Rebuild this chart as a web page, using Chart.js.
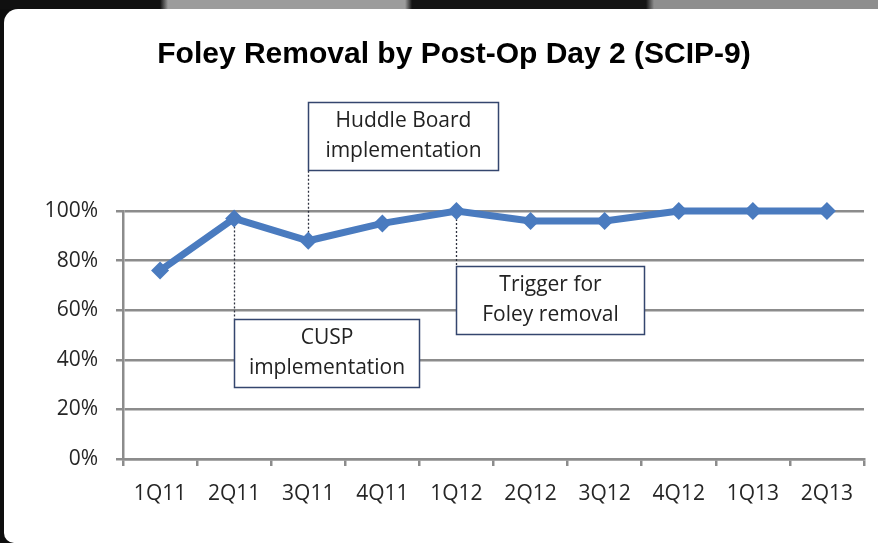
<!DOCTYPE html>
<html>
<head>
<meta charset="utf-8">
<title>Foley Removal by Post-Op Day 2</title>
<script src="https://cdn.jsdelivr.net/npm/chart.js@4.4.1/dist/chart.umd.min.js"></script>
<style>
  body { margin: 0; width: 878px; height: 543px; overflow: hidden; background: #0e0e0e; position: relative; }
  #strip { position: absolute; left: 0; top: 0; width: 878px; height: 9px;
    background: linear-gradient(90deg, #101010 0, #101010 160px, #9c9c9c 168px, #9c9c9c 405px, #151515 412px, #151515 646px, #8e8e8e 654px, #8e8e8e 878px); }
  #panel { position: absolute; left: 4px; top: 9px; right: 0; bottom: 0; background: #fff;
    border-top-left-radius: 14px; border-bottom-left-radius: 10px; }
  #wrap { position: absolute; left: 0; top: 0; width: 878px; height: 543px; }
</style>
</head>
<body>
<div id="strip"></div>
<div id="panel"></div>
<div id="wrap"><canvas id="myChart" width="878" height="543"></canvas></div>
<script>
let quarters = ['1Q11', '2Q11', '3Q11', '4Q11', '1Q12', '2Q12', '3Q12', '4Q12', '1Q13', '2Q13'];
let foleyRemoval = [76, 97, 88, 95, 100, 96, 96, 100, 100, 100];
let yTicks = [0, 20, 40, 60, 80, 100];

// annotation callouts, anchored to a quarter
let noteQuarters = ['3Q11', '2Q11', '1Q12'];
let noteLines = [
  ['Huddle Board', 'implementation'],
  ['CUSP', 'implementation'],
  ['Trigger for', 'Foley removal']
];

let blue = '#4a7bbf';
let gridGray = '#8c8c8c';

// where each callout box sits, in y-axis units (top, bottom) and px width
let boxPlacement = [
  { top: 144, bottom: 116.5, width: 190 },
  { top: 56.5, bottom: 29, width: 185 },
  { top: 78, bottom: 50.5, width: 188 }
];

const notesPlugin = {
  id: 'notes',
  beforeDatasetsDraw(chart) {
    let ctx = chart.ctx;
    let x = chart.scales.x;
    let y = chart.scales.y;
    ctx.save();
    ctx.strokeStyle = '#2e3240';
    ctx.lineWidth = 1.3;
    ctx.setLineDash([2, 2]);
    for (let i = 0; i < noteQuarters.length; i++) {
      let idx = quarters.indexOf(noteQuarters[i]);
      let px = Math.round(x.getPixelForValue(idx)) + 0.5;
      let py = y.getPixelForValue(foleyRemoval[idx]);
      let b = boxPlacement[i];
      let edge = b.bottom > foleyRemoval[idx] ? y.getPixelForValue(b.bottom) : y.getPixelForValue(b.top);
      ctx.beginPath();
      ctx.moveTo(px, py);
      ctx.lineTo(px, edge);
      ctx.stroke();
    }
    ctx.restore();
  },
  afterDatasetsDraw(chart) {
    let ctx = chart.ctx;
    let x = chart.scales.x;
    let y = chart.scales.y;
    ctx.save();
    for (let i = 0; i < noteQuarters.length; i++) {
      let idx = quarters.indexOf(noteQuarters[i]);
      let b = boxPlacement[i];
      let left = Math.round(x.getPixelForValue(idx)) + 0.5;
      let top = Math.round(y.getPixelForValue(b.top)) + 0.5;
      let bottom = Math.round(y.getPixelForValue(b.bottom)) + 0.5;
      ctx.fillStyle = '#fff';
      ctx.fillRect(left, top, b.width, bottom - top);
      ctx.strokeStyle = '#34466e';
      ctx.lineWidth = 1.5;
      ctx.strokeRect(left, top, b.width, bottom - top);
      ctx.fillStyle = '#222';
      ctx.font = '21px "Open Sans"';
      ctx.textAlign = 'center';
      ctx.textBaseline = 'middle';
      let cx = left + b.width / 2;
      let cy = (top + bottom) / 2;
      ctx.fillText(noteLines[i][0], cx, cy - 15);
      ctx.fillText(noteLines[i][1], cx, cy + 15);
    }
    ctx.restore();
  }
};

function renderChart() {
  Chart.defaults.font.family = '"Open Sans"';
  Chart.defaults.font.size = 21;
  Chart.defaults.color = '#262626';

  new Chart(document.getElementById('myChart'), {
    type: 'line',
    data: {
      labels: quarters,
      datasets: [{
        data: foleyRemoval,
        borderColor: blue,
        backgroundColor: blue,
        borderWidth: 7,
        pointStyle: 'rectRot',
        pointRadius: 9,
        pointBorderWidth: 0,
        tension: 0,
        clip: false
      }]
    },
    options: {
      responsive: false,
      animation: false,
      layout: { padding: { left: 44, right: 14, top: 0, bottom: 0 } },
      plugins: {
        legend: { display: false },
        tooltip: { enabled: false },
        title: {
          display: true,
          text: 'Foley Removal by Post-Op Day 2 (SCIP-9)',
          color: '#000',
          font: { family: '"Liberation Sans"', size: 30, weight: 'bold', lineHeight: 1.2 },
          padding: { top: 37, bottom: 138 }
        }
      },
      scales: {
        x: {
          offset: true,
          grid: { offset: true, drawOnChartArea: false, drawTicks: true, tickLength: 7, color: gridGray, lineWidth: 2.5 },
          border: { color: gridGray, width: 2.5 },
          ticks: { padding: 15, maxRotation: 0, autoSkip: false },
          afterFit(scale) { scale.height = 84; }
        },
        y: {
          min: 0,
          max: 100,
          grid: { color: gridGray, lineWidth: 2.5, tickLength: 7 },
          border: { color: gridGray, width: 2.5 },
          ticks: { padding: 18, callback: v => v + '%' },
          afterBuildTicks(scale) { scale.ticks = yTicks.map(v => ({ value: v })); },
          afterFit(scale) { scale.width = 79; }
        }
      }
    },
    plugins: [notesPlugin]
  });
}

Promise.all([
  document.fonts.load('21px "Open Sans"'),
  document.fonts.load('bold 30px "Liberation Sans"')
]).then(renderChart, renderChart);
</script>
</body>
</html>
